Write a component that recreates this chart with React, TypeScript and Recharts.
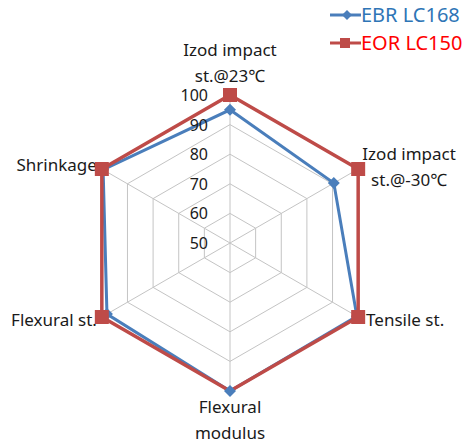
import React from 'react';
import { RadarChart, Radar, PolarGrid, PolarAngleAxis, PolarRadiusAxis, Legend } from 'recharts';

const categories = [
    'Izod impact\nst.@23℃',
    'Izod impact\nst.@-30℃',
    'Tensile st.',
    'Flexural\nmodulus',
    'Flexural st.',
    'Shrinkage',
];
const ebrLC168 = [95, 90.5, 99.5, 100, 98, 99.5];
const eorLC150 = [100, 100, 100, 100, 100, 100];
const seriesNames = ['EBR LC168', 'EOR LC150'];

const data = categories.map((name, i) => ({ name, ebr: ebrLC168[i], eor: eorLC150[i] }));

const BLUE = '#4a7ebb';
const RED = '#be4b48';
const FONT = '"Noto Sans", sans-serif';

// label placement relative to the axis tick point
const labelLayout = [
    { dx: 0, dy: -38, anchor: 'middle' },
    { dx: 44, dy: -12, anchor: 'middle' },
    { dx: 1, dy: -2, anchor: 'start' },
    { dx: 0, dy: 7, anchor: 'middle' },
    { dx: 2, dy: -2, anchor: 'end' },
    { dx: 2, dy: -1, anchor: 'end' },
];

const AngleTick = (props: any) => {
    const { x, y, payload, index } = props;
    const lay = labelLayout[index] || { dx: 0, dy: 0, anchor: 'middle' };
    const lines = String(payload.value).split('\n');
    return (
        <text x={x + lay.dx} y={y + lay.dy} textAnchor={lay.anchor} dominantBaseline="central"
            fontSize={17} fontFamily={FONT} fill="#1a1a1a">
            {lines.map((l, i) => (
                <tspan key={i} x={x + lay.dx} dy={i === 0 ? 0 : 26}>{l}</tspan>
            ))}
        </text>
    );
};

const RadiusTick = (props: any) => {
    const { x, y, payload } = props;
    return (
        <text x={x - 22} y={y} textAnchor="end" dominantBaseline="central"
            fontSize={16} fontFamily={FONT} fill="#1a1a1a">
            {payload.value}
        </text>
    );
};

const SquareDot = (props: any) => {
    const { cx, cy, index } = props;
    if (index === 3) return <g key={`s${index}`} />;
    return <rect key={`s${index}`} x={cx - 7} y={cy - 7} width={14} height={14} fill={RED} />;
};

const DiamondDot = (props: any) => {
    const { cx, cy, index } = props;
    const r = 6;
    return (
        <polygon key={`d${index}`} points={`${cx},${cy - r} ${cx + r},${cy} ${cx},${cy + r} ${cx - r},${cy}`} fill={BLUE} />
    );
};

const LegendContent = () => (
    <div style={{ fontFamily: FONT, fontSize: 20, lineHeight: '28px' }}>
        <div style={{ display: 'flex', alignItems: 'center', color: '#2e75b6' }}>
            <svg width={31} height={28}>
                <line x1={0} y1={14} x2={31} y2={14} stroke={BLUE} strokeWidth={3} />
                <polygon points="17,9 22,14 17,19 12,14" fill={BLUE} />
            </svg>
            <span>{seriesNames[0]}</span>
        </div>
        <div style={{ display: 'flex', alignItems: 'center', color: '#ff0000' }}>
            <svg width={31} height={28}>
                <line x1={0} y1={14} x2={31} y2={14} stroke={RED} strokeWidth={3} />
                <rect x={10} y={9} width={10} height={10} fill={RED} />
            </svg>
            <span>{seriesNames[1]}</span>
        </div>
    </div>
);

export default function App() {
    return (
        <div style={{ position: 'absolute', left: 0, top: 0, width: 473, height: 444, background: '#fff' }}>
            <RadarChart width={473} height={444} data={data} cx={230} cy={243} outerRadius={148}
                margin={{ top: 0, right: 0, bottom: 0, left: 0 }}>
                <PolarGrid gridType="polygon" stroke="#c4c4c4" strokeWidth={1} />
                <PolarAngleAxis dataKey="name" tick={<AngleTick />} tickLine={false} axisLine={false} />
                <PolarRadiusAxis angle={90} domain={[50, 100]} tickCount={6} axisLine={false}
                    tick={<RadiusTick />} tickLine={false} />
                <Radar name={seriesNames[0]} dataKey="ebr" stroke={BLUE} strokeWidth={3}
                    fill="none" fillOpacity={0} dot={<DiamondDot />} isAnimationActive={false} />
                <Radar name={seriesNames[1]} dataKey="eor" stroke={RED} strokeWidth={3.5}
                    fill="none" fillOpacity={0} dot={<SquareDot />} isAnimationActive={false} />
                <Legend content={<LegendContent />} wrapperStyle={{ position: 'absolute', top: 1, left: 330, width: 150 }} />
            </RadarChart>
        </div>
    );
}
